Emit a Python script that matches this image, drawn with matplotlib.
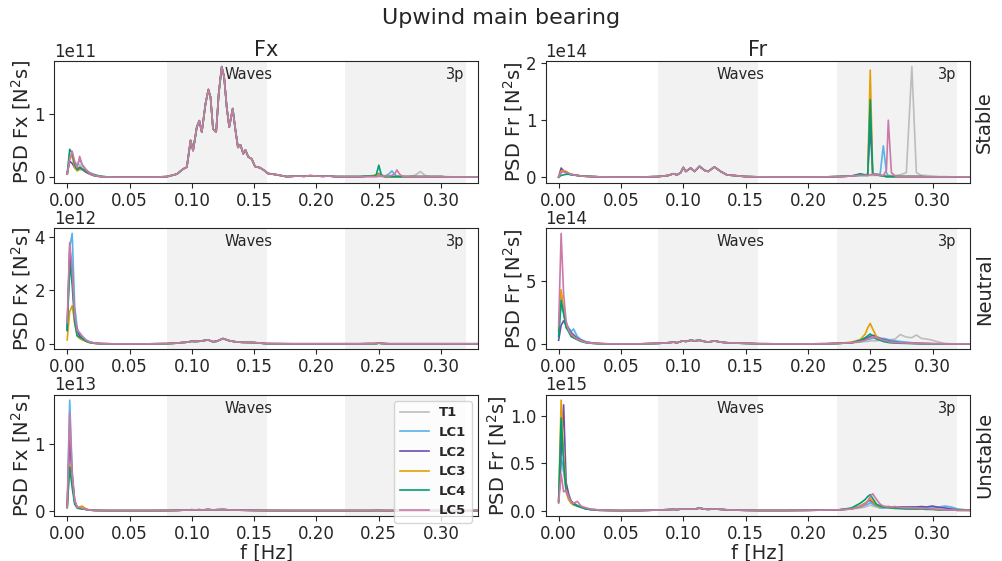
import numpy as np
import matplotlib
matplotlib.use("Agg")
import matplotlib.pyplot as plt

plt.rcParams["font.family"] = "DejaVu Sans"
plt.rcParams["axes.edgecolor"] = "#262626"
plt.rcParams["xtick.color"] = "#262626"
plt.rcParams["ytick.color"] = "#262626"
plt.rcParams["text.color"] = "#262626"
plt.rcParams["axes.labelcolor"] = "#262626"

names = ["T1", "LC1", "LC2", "LC3", "LC4", "LC5"]
colors = ["#bdbdbd", "#56B4E9", "#6a4fb0", "#E69F00", "#009E73", "#CC79A7"]
rows = ["Stable", "Neutral", "Unstable"]

# frequency grids [Hz]
f_lo = [0, 0.002, 0.004, 0.006, 0.008, 0.010, 0.012, 0.015, 0.018, 0.022, 0.027, 0.033, 0.04]
f_mid_a = [0.05, 0.07, 0.08, 0.088, 0.093, 0.096, 0.099, 0.101, 0.104, 0.106, 0.108, 0.111,
           0.1133, 0.115, 0.117, 0.1195, 0.1216, 0.124, 0.1259, 0.128, 0.130, 0.1328, 0.135,
           0.137, 0.139, 0.1413, 0.143, 0.1453, 0.148, 0.1507, 0.1547, 0.1587, 0.161, 0.168,
           0.176, 0.185, 0.19, 0.195, 0.2, 0.205, 0.21, 0.215]
f_mid_b = [0.05, 0.065, 0.08, 0.088, 0.092, 0.095, 0.098, 0.1, 0.102, 0.106, 0.109, 0.113,
           0.117, 0.12, 0.125, 0.13, 0.135, 0.14, 0.15, 0.16, 0.18, 0.2, 0.215]
f_hi = [0.225, 0.235, 0.242, 0.246, 0.248, 0.250, 0.252, 0.255, 0.258, 0.2605, 0.263, 0.2645,
        0.267, 0.270, 0.274, 0.279, 0.2834, 0.287, 0.291, 0.295, 0.30, 0.305, 0.31, 0.315,
        0.32, 0.33]

# ---- Fx, stable (x1e11)
fx_st_lo = {
    "T1":  [0.05, 0.3, 0.35, 0.25, 0.2, 0.2, 0.15, 0.1, 0.06, 0.03, 0.01, 0.005, 0.002],
    "LC1": [0.05, 0.3, 0.36, 0.22, 0.18, 0.28, 0.2, 0.12, 0.07, 0.03, 0.01, 0.005, 0.002],
    "LC2": [0.05, 0.25, 0.22, 0.15, 0.12, 0.16, 0.12, 0.08, 0.05, 0.02, 0.01, 0.005, 0.002],
    "LC3": [0.05, 0.3, 0.33, 0.15, 0.1, 0.12, 0.12, 0.1, 0.06, 0.03, 0.01, 0.005, 0.002],
    "LC4": [0.05, 0.44, 0.38, 0.2, 0.12, 0.15, 0.13, 0.1, 0.07, 0.04, 0.015, 0.005, 0.002],
    "LC5": [0.05, 0.3, 0.41, 0.25, 0.15, 0.33, 0.2, 0.12, 0.07, 0.03, 0.01, 0.005, 0.002],
}
fx_st_mid = [0.002, 0.003, 0.01, 0.05, 0.13, 0.16, 0.58, 0.42, 0.79, 0.89, 0.71, 1.16, 1.38,
             1.26, 0.76, 0.71, 1.32, 1.74, 1.58, 1.1, 0.79, 1.08, 0.74, 0.47, 0.51, 0.37,
             0.43, 0.32, 0.29, 0.17, 0.15, 0.1, 0.06, 0.04, 0.01, 0.02, 0.015, 0.025, 0.02,
             0.015, 0.02, 0.01]
fx_st_hi = {
    "T1":  [0.01, 0.01, 0.01, 0.01, 0.01, 0.01, 0.01, 0.01, 0.01, 0.01, 0.01, 0.01, 0.01,
            0.01, 0.01, 0.03, 0.09, 0.03, 0.01, 0.01, 0.01, 0.01, 0.005, 0.005, 0.005, 0.005],
    "LC1": [0.01, 0.01, 0.02, 0.02, 0.02, 0.03, 0.02, 0.02, 0.05, 0.1, 0.04, 0.02, 0.01,
            0.01, 0.01, 0.01, 0.01, 0.01, 0.01, 0.01, 0.01, 0.005, 0.005, 0.005, 0.005, 0.005],
    "LC2": [0.01, 0.01, 0.02, 0.02, 0.03, 0.06, 0.02, 0.01, 0.01, 0.01, 0.01, 0.01, 0.01,
            0.01, 0.01, 0.01, 0.01, 0.01, 0.01, 0.01, 0.01, 0.005, 0.005, 0.005, 0.005, 0.005],
    "LC3": [0.01, 0.01, 0.02, 0.03, 0.03, 0.05, 0.02, 0.01, 0.01, 0.01, 0.01, 0.01, 0.01,
            0.01, 0.01, 0.01, 0.01, 0.01, 0.01, 0.01, 0.01, 0.005, 0.005, 0.005, 0.005, 0.005],
    "LC4": [0.01, 0.01, 0.02, 0.02, 0.04, 0.19, 0.04, 0.01, 0.01, 0.01, 0.01, 0.01, 0.01,
            0.01, 0.01, 0.01, 0.01, 0.01, 0.01, 0.01, 0.01, 0.005, 0.005, 0.005, 0.005, 0.005],
    "LC5": [0.01, 0.01, 0.01, 0.01, 0.01, 0.02, 0.02, 0.02, 0.02, 0.03, 0.06, 0.115, 0.04,
            0.01, 0.01, 0.01, 0.01, 0.01, 0.01, 0.01, 0.01, 0.005, 0.005, 0.005, 0.005, 0.005],
}

# ---- Fr, stable (x1e14)
fr_st_lo = {
    "T1":  [0, 0.1, 0.1, 0.08, 0.06, 0.05, 0.04, 0.03, 0.02, 0.015, 0.01, 0.005, 0.003],
    "LC1": [0, 0.09, 0.1, 0.09, 0.07, 0.05, 0.04, 0.03, 0.02, 0.015, 0.01, 0.005, 0.003],
    "LC2": [0, 0.16, 0.11, 0.08, 0.06, 0.05, 0.04, 0.03, 0.02, 0.015, 0.01, 0.005, 0.003],
    "LC3": [0, 0.1, 0.12, 0.1, 0.07, 0.05, 0.04, 0.03, 0.02, 0.015, 0.01, 0.005, 0.003],
    "LC4": [0, 0.03, 0.04, 0.05, 0.05, 0.04, 0.035, 0.03, 0.02, 0.015, 0.01, 0.005, 0.003],
    "LC5": [0, 0.08, 0.1, 0.09, 0.07, 0.05, 0.04, 0.03, 0.02, 0.015, 0.01, 0.005, 0.003],
}
fr_st_mid = [0.002, 0.002, 0.01, 0.03, 0.06, 0.04, 0.08, 0.17, 0.1, 0.16, 0.1, 0.19, 0.12,
             0.1, 0.18, 0.1, 0.04, 0.03, 0.01, 0.005, 0.003, 0.003, 0.005]
fr_st_hi = {
    "T1":  [0.01, 0.02, 0.03, 0.03, 0.03, 0.03, 0.03, 0.03, 0.03, 0.03, 0.03, 0.03, 0.03,
            0.03, 0.04, 0.08, 1.94, 0.08, 0.03, 0.03, 0.02, 0.01, 0.01, 0.005, 0.005, 0.005],
    "LC1": [0.01, 0.02, 0.03, 0.03, 0.03, 0.04, 0.05, 0.04, 0.06, 0.55, 0.08, 0.02, 0.01,
            0.01, 0.01, 0.01, 0.01, 0.01, 0.01, 0.005, 0.005, 0.005, 0.005, 0.005, 0.005, 0.005],
    "LC2": [0.01, 0.02, 0.04, 0.04, 0.05, 0.89, 0.06, 0.05, 0.03, 0.02, 0.01, 0.01, 0.01,
            0.01, 0.01, 0.01, 0.01, 0.01, 0.01, 0.005, 0.005, 0.005, 0.005, 0.005, 0.005, 0.005],
    "LC3": [0.01, 0.02, 0.04, 0.04, 0.05, 1.88, 0.06, 0.05, 0.03, 0.02, 0.01, 0.01, 0.01,
            0.01, 0.01, 0.01, 0.01, 0.01, 0.01, 0.005, 0.005, 0.005, 0.005, 0.005, 0.005, 0.005],
    "LC4": [0.01, 0.02, 0.06, 0.04, 0.03, 1.36, 0.05, 0.04, 0.03, 0.02, 0.01, 0.01, 0.01,
            0.01, 0.01, 0.01, 0.01, 0.01, 0.01, 0.005, 0.005, 0.005, 0.005, 0.005, 0.005, 0.005],
    "LC5": [0.01, 0.02, 0.03, 0.03, 0.03, 0.04, 0.05, 0.04, 0.03, 0.03, 0.12, 1.0, 0.08,
            0.02, 0.01, 0.01, 0.01, 0.01, 0.01, 0.005, 0.005, 0.005, 0.005, 0.005, 0.005, 0.005],
}

# ---- Fx, neutral (x1e12)
fx_ne_lo = {
    "T1":  [0.6, 3.5, 3.0, 1.2, 0.5, 0.3, 0.2, 0.12, 0.06, 0.03, 0.01, 0.005, 0.002],
    "LC1": [0.6, 3.6, 4.12, 1.4, 0.6, 0.35, 0.25, 0.15, 0.08, 0.03, 0.01, 0.005, 0.002],
    "LC2": [0.5, 3.4, 2.6, 1.0, 0.5, 0.3, 0.2, 0.12, 0.06, 0.03, 0.01, 0.005, 0.002],
    "LC3": [0.15, 1.2, 1.42, 0.8, 0.3, 0.2, 0.15, 0.1, 0.05, 0.02, 0.01, 0.005, 0.002],
    "LC4": [0.5, 3.0, 2.2, 0.8, 0.3, 0.25, 0.2, 0.1, 0.05, 0.02, 0.01, 0.005, 0.002],
    "LC5": [0.8, 3.78, 2.8, 1.1, 0.5, 0.42, 0.3, 0.15, 0.07, 0.03, 0.01, 0.005, 0.002],
}
fx_ne_mid = [0.003, 0.003, 0.01, 0.03, 0.05, 0.06, 0.08, 0.1, 0.09, 0.1, 0.12, 0.15, 0.08,
             0.1, 0.2, 0.12, 0.08, 0.06, 0.05, 0.01, 0.005, 0.005, 0.005]
fx_ne_hi_all = [0.005, 0.005, 0.01, 0.01, 0.015, 0.03, 0.02, 0.01, 0.005, 0.005, 0.005, 0.005,
                0.005, 0.005, 0.005, 0.005, 0.005, 0.005, 0.005, 0.005, 0.005, 0.005, 0.005,
                0.005, 0.005, 0.005]

# ---- Fr, neutral (x1e14)
fr_ne_lo = {
    "T1":  [1.0, 3.0, 2.5, 1.8, 1.2, 1.0, 0.8, 0.5, 0.3, 0.15, 0.08, 0.03, 0.01],
    "LC1": [1.0, 3.3, 2.8, 1.6, 1.3, 1.0, 1.2, 0.6, 0.35, 0.18, 0.08, 0.03, 0.01],
    "LC2": [0.3, 1.5, 1.85, 1.5, 1.2, 0.9, 0.7, 0.45, 0.3, 0.15, 0.08, 0.03, 0.01],
    "LC3": [1.2, 4.34, 2.8, 1.5, 1.0, 0.7, 0.5, 0.35, 0.25, 0.12, 0.06, 0.03, 0.01],
    "LC4": [0.6, 3.5, 2.4, 1.3, 1.0, 0.6, 0.5, 0.35, 0.2, 0.1, 0.05, 0.02, 0.01],
    "LC5": [1.4, 8.84, 4.0, 1.8, 1.1, 0.8, 0.6, 0.4, 0.25, 0.12, 0.06, 0.03, 0.01],
}
fr_ne_mid = [0.01, 0.01, 0.05, 0.1, 0.15, 0.1, 0.2, 0.25, 0.2, 0.3, 0.25, 0.3, 0.2, 0.15,
             0.25, 0.15, 0.1, 0.08, 0.05, 0.02, 0.01, 0.01, 0.02]
fr_ne_hi = {
    "T1":  [0.05, 0.1, 0.15, 0.2, 0.2, 0.25, 0.25, 0.25, 0.3, 0.3, 0.3, 0.35, 0.35, 0.4,
            0.75, 0.55, 0.5, 0.72, 0.45, 0.4, 0.3, 0.15, 0.05, 0.02, 0.01, 0.01],
    "LC1": [0.05, 0.1, 0.2, 0.3, 0.35, 0.4, 0.45, 0.45, 0.45, 0.45, 0.4, 0.35, 0.3, 0.25,
            0.2, 0.15, 0.1, 0.08, 0.05, 0.04, 0.03, 0.02, 0.01, 0.01, 0.01, 0.01],
    "LC2": [0.05, 0.1, 0.25, 0.4, 0.5, 0.6, 0.7, 0.6, 0.45, 0.35, 0.3, 0.25, 0.2, 0.15,
            0.1, 0.08, 0.06, 0.05, 0.04, 0.03, 0.02, 0.02, 0.01, 0.01, 0.01, 0.01],
    "LC3": [0.05, 0.15, 0.35, 0.8, 1.3, 1.64, 1.2, 0.6, 0.35, 0.25, 0.2, 0.15, 0.12, 0.1,
            0.08, 0.06, 0.05, 0.04, 0.03, 0.02, 0.02, 0.01, 0.01, 0.01, 0.01, 0.01],
    "LC4": [0.05, 0.1, 0.3, 0.5, 0.65, 0.8, 0.6, 0.4, 0.3, 0.2, 0.15, 0.12, 0.1, 0.08,
            0.06, 0.05, 0.04, 0.03, 0.02, 0.02, 0.01, 0.01, 0.01, 0.01, 0.01, 0.01],
    "LC5": [0.05, 0.1, 0.2, 0.3, 0.4, 0.5, 0.58, 0.5, 0.4, 0.3, 0.25, 0.2, 0.15, 0.12,
            0.1, 0.08, 0.06, 0.05, 0.04, 0.03, 0.02, 0.02, 0.01, 0.01, 0.01, 0.01],
}

# ---- Fx, unstable (x1e13)
fx_un_lo = {
    "T1":  [0.05, 1.2, 0.5, 0.15, 0.05, 0.04, 0.03, 0.02, 0.01, 0.005, 0.003, 0.002, 0.002],
    "LC1": [0.05, 1.67, 0.6, 0.15, 0.05, 0.04, 0.03, 0.02, 0.01, 0.005, 0.003, 0.002, 0.002],
    "LC2": [0.05, 1.1, 0.5, 0.15, 0.05, 0.04, 0.03, 0.02, 0.01, 0.005, 0.003, 0.002, 0.002],
    "LC3": [0.05, 0.69, 0.45, 0.12, 0.05, 0.06, 0.07, 0.03, 0.01, 0.005, 0.003, 0.002, 0.002],
    "LC4": [0.05, 0.66, 0.35, 0.1, 0.04, 0.03, 0.03, 0.02, 0.01, 0.005, 0.003, 0.002, 0.002],
    "LC5": [0.05, 1.48, 0.55, 0.15, 0.05, 0.05, 0.04, 0.02, 0.01, 0.005, 0.003, 0.002, 0.002],
}
fx_un_mid = [0.002, 0.002, 0.003, 0.005, 0.008, 0.01, 0.012, 0.015, 0.012, 0.015, 0.012,
             0.018, 0.012, 0.015, 0.018, 0.012, 0.01, 0.008, 0.005, 0.003, 0.002, 0.002, 0.002]
fx_un_hi_all = [0.002, 0.002, 0.002, 0.003, 0.003, 0.004, 0.003, 0.002, 0.002, 0.002, 0.002,
                0.002, 0.002, 0.002, 0.002, 0.002, 0.002, 0.002, 0.002, 0.002, 0.002, 0.002,
                0.002, 0.002, 0.002, 0.002]

# ---- Fr, unstable (x1e15)
fr_un_lo = {
    "T1":  [0.1, 0.5, 0.4, 0.2, 0.12, 0.08, 0.07, 0.05, 0.03, 0.02, 0.01, 0.005, 0.004],
    "LC1": [0.1, 0.55, 0.45, 0.25, 0.15, 0.1, 0.08, 0.06, 0.04, 0.02, 0.01, 0.005, 0.004],
    "LC2": [0.1, 0.6, 1.12, 0.3, 0.18, 0.1, 0.08, 0.05, 0.04, 0.02, 0.015, 0.008, 0.004],
    "LC3": [0.1, 1.17, 0.6, 0.2, 0.12, 0.08, 0.06, 0.05, 0.04, 0.03, 0.01, 0.005, 0.004],
    "LC4": [0.1, 0.98, 0.5, 0.22, 0.15, 0.1, 0.07, 0.05, 0.04, 0.02, 0.01, 0.005, 0.004],
    "LC5": [0.08, 0.39, 0.2, 0.22, 0.15, 0.09, 0.08, 0.1, 0.05, 0.03, 0.015, 0.008, 0.004],
}
fr_un_mid = [0.002, 0.003, 0.008, 0.012, 0.015, 0.012, 0.018, 0.02, 0.018, 0.02, 0.018,
             0.028, 0.018, 0.015, 0.02, 0.015, 0.01, 0.008, 0.005, 0.003, 0.003, 0.005, 0.008]
fr_un_hi = {
    "T1":  [0.01, 0.02, 0.03, 0.04, 0.05, 0.06, 0.05, 0.04, 0.03, 0.03, 0.03, 0.03, 0.03,
            0.02, 0.02, 0.02, 0.02, 0.02, 0.02, 0.02, 0.02, 0.015, 0.01, 0.01, 0.005, 0.005],
    "LC1": [0.01, 0.02, 0.04, 0.06, 0.07, 0.085, 0.07, 0.05, 0.03, 0.03, 0.03, 0.03, 0.03,
            0.03, 0.03, 0.03, 0.035, 0.04, 0.035, 0.04, 0.04, 0.04, 0.05, 0.04, 0.02, 0.005],
    "LC2": [0.01, 0.02, 0.05, 0.08, 0.1, 0.11, 0.09, 0.06, 0.05, 0.04, 0.04, 0.045, 0.04,
            0.04, 0.04, 0.04, 0.04, 0.04, 0.045, 0.04, 0.05, 0.035, 0.03, 0.02, 0.01, 0.005],
    "LC3": [0.01, 0.02, 0.05, 0.08, 0.1, 0.13, 0.1, 0.06, 0.04, 0.04, 0.04, 0.035, 0.03,
            0.03, 0.03, 0.025, 0.025, 0.02, 0.02, 0.02, 0.015, 0.01, 0.01, 0.01, 0.005, 0.005],
    "LC4": [0.01, 0.03, 0.08, 0.12, 0.15, 0.17, 0.13, 0.07, 0.05, 0.04, 0.04, 0.035, 0.03,
            0.03, 0.025, 0.02, 0.02, 0.02, 0.02, 0.015, 0.015, 0.01, 0.01, 0.01, 0.005, 0.005],
    "LC5": [0.01, 0.02, 0.04, 0.07, 0.1, 0.15, 0.18, 0.12, 0.07, 0.05, 0.045, 0.04, 0.04,
            0.045, 0.035, 0.03, 0.03, 0.03, 0.025, 0.025, 0.02, 0.015, 0.01, 0.01, 0.005, 0.005],
}

# panel table: (row, col) -> (low dict, f_mid, mid, high dict or shared list, scale)
panels = {
    (0, 0): (fx_st_lo, f_mid_a, fx_st_mid, fx_st_hi, 1e11),
    (0, 1): (fr_st_lo, f_mid_b, fr_st_mid, fr_st_hi, 1e14),
    (1, 0): (fx_ne_lo, f_mid_b, fx_ne_mid, fx_ne_hi_all, 1e12),
    (1, 1): (fr_ne_lo, f_mid_b, fr_ne_mid, fr_ne_hi, 1e14),
    (2, 0): (fx_un_lo, f_mid_b, fx_un_mid, fx_un_hi_all, 1e13),
    (2, 1): (fr_un_lo, f_mid_b, fr_un_mid, fr_un_hi, 1e15),
}

fig, axs = plt.subplots(3, 2, figsize=(10.02, 5.61), dpi=100)
fig.subplots_adjust(left=0.054, right=0.968, top=0.891, bottom=0.080, wspace=0.158, hspace=0.372)

for (r, c), (lo, fm, mid, hi, sc) in panels.items():
    ax = axs[r, c]
    ax.axvspan(0.08, 0.16, color="gray", alpha=0.1, lw=0)
    ax.axvspan(0.2232, 0.32, color="gray", alpha=0.1, lw=0)
    f = np.array(f_lo + fm + f_hi)
    for name, col in zip(names, colors):
        h = hi[name] if isinstance(hi, dict) else hi
        y = np.array(lo[name] + mid + h) * sc
        ax.plot(f, y, color=col, lw=1.2, label=name)
    ax.set_xlim(-0.0105, 0.33)
    ax.tick_params(labelsize=12, pad=3)
    ax.yaxis.get_offset_text().set_fontsize(12)
    ax.text(0.1264, 0.95, "Waves", transform=ax.get_xaxis_transform(), ha="left", va="top", fontsize=10.5)
    if r < 2 or c == 1:
        ax.text(0.304, 0.95, "3p", transform=ax.get_xaxis_transform(), ha="left", va="top", fontsize=10.5)
    ax.set_ylabel("PSD %s [N$^2$s]" % ("Fx" if c == 0 else "Fr"), fontsize=14, labelpad=1)
    if r == 2:
        ax.set_xlabel("f [Hz]", fontsize=14, labelpad=0)
    if c == 1:
        ax.text(1.012, 0.5, rows[r], transform=ax.transAxes, rotation=90, ha="left", va="center", fontsize=14)

axs[0, 0].set_title("Fx", fontsize=15, pad=4)
axs[0, 1].set_title("Fr", fontsize=15, pad=4)
leg = axs[2, 0].legend(loc="upper right", prop={"weight": "bold", "size": 9.5}, handlelength=2.2)
fig.suptitle("Upwind main bearing", fontsize=16, y=0.985)

fig.savefig("out.png", dpi=100)
